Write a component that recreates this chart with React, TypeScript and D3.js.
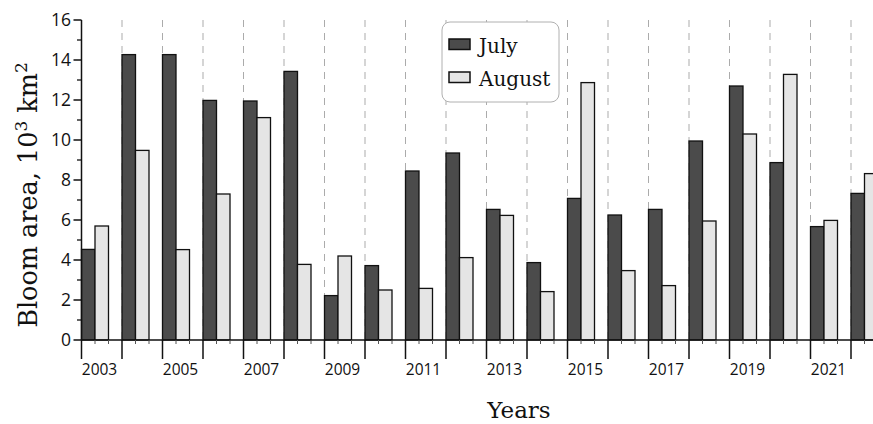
import React from "react";
import * as d3 from "d3";

const years = [2003, 2004, 2005, 2006, 2007, 2008, 2009, 2010, 2011, 2012, 2013, 2014, 2015, 2016, 2017, 2018, 2019, 2020, 2021, 2022];
const july = [4.53, 14.27, 14.27, 11.98, 11.95, 13.43, 2.22, 3.72, 8.45, 9.35, 6.53, 3.87, 7.08, 6.25, 6.53, 9.95, 12.7, 8.87, 5.67, 7.33];
const august = [5.7, 9.48, 4.52, 7.3, 11.12, 3.78, 4.2, 2.5, 2.58, 4.12, 6.23, 2.42, 12.87, 3.47, 2.72, 5.95, 10.3, 13.28, 5.98, 8.32];
const yMajorTicks = [0, 2, 4, 6, 8, 10, 12, 14, 16];
const yMinorTicks = [1, 3, 5, 7, 9, 11, 13, 15];
const yearLabels = [2003, 2005, 2007, 2009, 2011, 2013, 2015, 2017, 2019, 2021];
const seriesNames = ["July", "August"];

const W = 873;
const H = 424;
const DARK = "#4b4b4b";
const LIGHT = "#e5e5e5";

export default function App() {
  const x = d3.scaleLinear().domain([2003, 2023]).range([81.5, 891.5]);
  const y = d3.scaleLinear().domain([0, 16]).range([340, 20]);
  const band = x(2004) - x(2003);
  const bw = band / 3;
  const tickFont = "'Open Sans', 'DejaVu Sans', sans-serif";
  const serif = "'DejaVu Serif', serif";

  return (
    <div style={{ position: "absolute", left: 0, top: 0 }}>
      <svg width={W} height={H} style={{ display: "block" }}>
        <rect width={W} height={H} fill="#fff" />
        {/* dashed year gridlines */}
        {years.slice(1).map((yr) => (
          <line key={"g" + yr} x1={x(yr)} x2={x(yr)} y1={y(16)} y2={y(0)}
            stroke="#ababab" strokeWidth={1} strokeDasharray="7,6" />
        ))}
        {/* bars */}
        {years.map((yr, i) => (
          <g key={"b" + yr}>
            <rect x={x(yr)} y={y(july[i])} width={bw} height={y(0) - y(july[i])}
              fill={DARK} stroke="#111" strokeWidth={1.3} />
            <rect x={x(yr) + bw} y={y(august[i])} width={bw} height={y(0) - y(august[i])}
              fill={LIGHT} stroke="#111" strokeWidth={1.3} />
          </g>
        ))}
        {/* x axis */}
        <line x1={x(2003)} x2={W} y1={y(0)} y2={y(0)} stroke="#111" strokeWidth={1.5} />
        {years.map((yr) => (
          <g key={"t" + yr}>
            <line x1={x(yr)} x2={x(yr)} y1={y(0)} y2={y(0) + 19} stroke="#111" strokeWidth={1.5} />
            <line x1={x(yr) + bw} x2={x(yr) + bw} y1={y(0)} y2={y(0) + 4} stroke="#555" strokeWidth={1} />
            <line x1={x(yr) + 2 * bw} x2={x(yr) + 2 * bw} y1={y(0)} y2={y(0) + 4} stroke="#555" strokeWidth={1} />
          </g>
        ))}
        {yearLabels.map((yr) => (
          <text key={"yl" + yr} x={x(yr) + 18} y={375} textAnchor="middle"
            fontFamily={tickFont} fontSize={15.5} fill="#111">{yr}</text>
        ))}
        {/* y axis */}
        <line x1={x(2003)} x2={x(2003)} y1={y(16)} y2={y(0)} stroke="#111" strokeWidth={1.5} />
        {yMajorTicks.map((v) => (
          <g key={"ym" + v}>
            <line x1={x(2003) - 8} x2={x(2003)} y1={y(v)} y2={y(v)} stroke="#111" strokeWidth={1.5} />
            <text x={71} y={y(v)} dy="0.36em" textAnchor="end" fontFamily={tickFont} fontSize={17.5} fill="#111">{v}</text>
          </g>
        ))}
        {yMinorTicks.map((v) => (
          <line key={"yn" + v} x1={x(2003) - 4.5} x2={x(2003)} y1={y(v)} y2={y(v)} stroke="#111" strokeWidth={1.3} />
        ))}
        {/* axis titles */}
        <text x={519} y={418} textAnchor="middle" fontFamily={serif} fontSize={23} fill="#111">Years</text>
        <text transform={`translate(37,195) rotate(-90)`} textAnchor="middle" fontFamily={serif} fontSize={25.5} fill="#111">
          Bloom area, 10<tspan dy={-10} fontSize={17}>3</tspan><tspan dy={10}> km</tspan><tspan dy={-10} fontSize={17}>2</tspan>
        </text>
        {/* legend */}
        <rect x={442} y={22} width={117} height={80} rx={8} ry={8} fill="#fff" stroke="#b0b0b0" strokeWidth={1} />
        {seriesNames.map((s, i) => (
          <g key={"lg" + s} transform={`translate(0, ${i * 33})`}>
            <rect x={449} y={39} width={21} height={10.5} fill={i === 0 ? DARK : LIGHT} stroke="#111" strokeWidth={1.5} />
            <text x={479} y={53} fontFamily={serif} fontSize={20} fill="#111">{s}</text>
          </g>
        ))}
      </svg>
    </div>
  );
}
